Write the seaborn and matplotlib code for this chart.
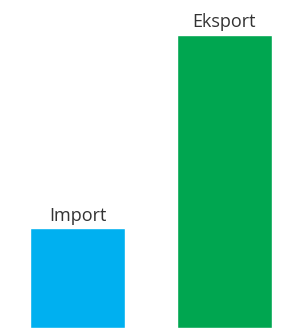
import matplotlib
matplotlib.use("Agg")
import matplotlib.pyplot as plt
import pandas as pd
import seaborn as sns

# Data (relative sizes, export = 100)
categories = ["Import", "Eksport"]
values = [34.1, 100.0]
colors = ["#00B0F0", "#00A650"]

sns.set_theme(style="white")
plt.rcParams["font.family"] = ["Open Sans", "DejaVu Sans"]

df = pd.DataFrame({"kategori": categories, "verdi": values})

fig = plt.figure(figsize=(2.93, 3.28), dpi=100)
ax = fig.add_axes([0, 0, 1, 1])
sns.barplot(data=df, x="kategori", y="verdi", hue="kategori",
            palette=colors, width=0.646, saturation=1, legend=False, ax=ax)

ax.set_xlim(-0.527, 1.466)
ax.set_ylim(0, 111.9)
ax.set_axis_off()

for i, (cat, val) in enumerate(zip(categories, values)):
    ax.annotate(cat, (i, val), xytext=(0, 2.5), textcoords="offset points",
                ha="center", va="bottom", fontsize=13, color="#333333")

fig.savefig("out.png", dpi=100)
